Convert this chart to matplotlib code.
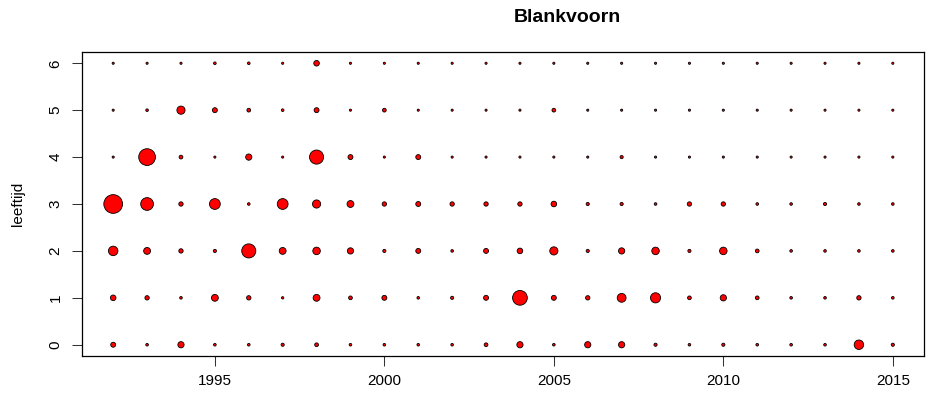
import numpy as np
import matplotlib
matplotlib.use("Agg")
import matplotlib.pyplot as plt

plt.rcParams['font.family'] = ['Liberation Sans', 'DejaVu Sans']

# jaren en leeftijdsklassen
jaren = list(range(1992, 2016))
leeftijden = [0, 1, 2, 3, 4, 5, 6]

# aantallen per leeftijd (rij) en jaar (kolom), 1992 t/m 2015
leeftijd0 = [49, 9, 81, 9, 9, 16, 25, 9, 9, 9, 9, 25, 81, 9, 81, 81, 16, 9, 16, 9, 9, 9, 196, 16]
leeftijd1 = [64, 36, 9, 100, 36, 6, 100, 25, 49, 9, 16, 49, 484, 49, 36, 169, 225, 25, 81, 25, 9, 9, 36, 9]
leeftijd2 = [196, 100, 36, 16, 441, 100, 121, 81, 16, 49, 9, 49, 64, 144, 16, 81, 121, 16, 121, 25, 9, 9, 9, 9]
leeftijd3 = [784, 361, 36, 256, 9, 256, 144, 100, 36, 49, 36, 36, 36, 64, 16, 16, 9, 36, 36, 9, 9, 16, 9, 9]
leeftijd4 = [4, 625, 25, 4, 81, 4, 441, 49, 4, 49, 4, 4, 4, 4, 4, 16, 4, 4, 4, 4, 4, 4, 4, 4]
leeftijd5 = [4, 9, 144, 49, 25, 9, 49, 4, 25, 4, 4, 4, 4, 25, 4, 4, 4, 4, 4, 4, 4, 4, 4, 4]
leeftijd6 = [4, 4, 4, 9, 9, 4, 64, 4, 4, 4, 4, 4, 4, 4, 4, 4, 4, 4, 4, 4, 4, 4, 4, 4]

aantallen = np.array([leeftijd0, leeftijd1, leeftijd2, leeftijd3,
                      leeftijd4, leeftijd5, leeftijd6], dtype=float)

xticks = [1995, 2000, 2005, 2010, 2015]

fig = plt.figure(figsize=(9.29, 4.01), dpi=100)
ax = fig.add_axes([82/929, 1-356/401, 842/929, 304/401])

X, Y = np.meshgrid(jaren, leeftijden)
# cirkeloppervlak evenredig met aantal, kleinste stippen nog zichtbaar
ax.scatter(X.ravel(), Y.ravel(), s=0.23*aantallen.ravel() + 1.5,
           facecolor='red', edgecolor='black', linewidth=0.6, zorder=3)

# R-achtige assen: 4% marge rond de data
ax.set_xlim(1992 - 0.04*23, 2015 + 0.04*23)
ax.set_ylim(0 - 0.04*6, 6 + 0.04*6)

ax.set_xticks(xticks)
ax.set_xticklabels([str(j) for j in xticks], fontsize=11)
ax.set_yticks(leeftijden)
ax.set_yticklabels([str(l) for l in leeftijden], fontsize=11,
                   rotation=90, va='center')
ax.tick_params(axis='both', length=7, width=0.75, color='#333333')
ax.tick_params(axis='x', pad=6)
ax.tick_params(axis='y', pad=7)

for sp in ax.spines.values():
    sp.set_linewidth(0.9)
    sp.set_color('black')

fig.text(18/929, 1-204/401, 'leeftijd', rotation=90, fontsize=11,
         ha='center', va='center')
fig.text(567/929, 1-17/401, 'Blankvoorn', fontsize=14, fontweight='bold',
         ha='center', va='center')

fig.savefig('out.png', dpi=100)
